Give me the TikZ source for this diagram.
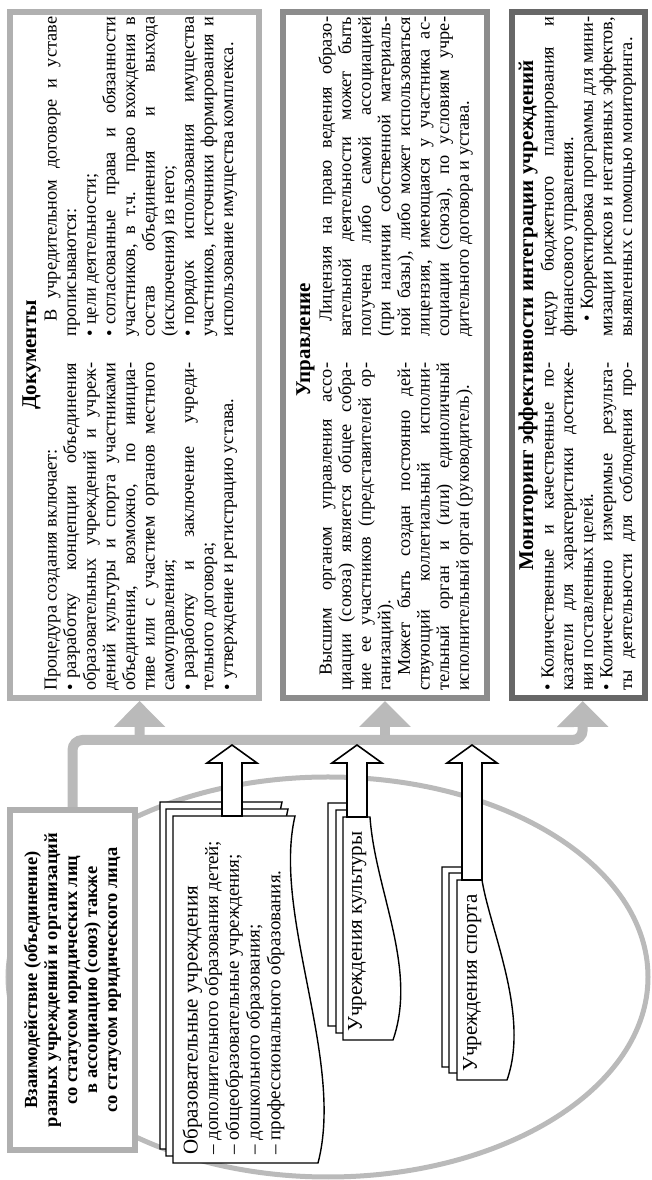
\documentclass[tikz,border=0pt]{standalone}
\usepackage{fontspec}
\setmainfont{Liberation Serif}
\usetikzlibrary{arrows.meta,calc}
\definecolor{lgray}{HTML}{B0B0B0}
\definecolor{mgray}{HTML}{8C8C8C}
\definecolor{dgray}{HTML}{676767}
\definecolor{tgray}{HTML}{BABABA}
\newcommand\bodyfont{\fontsize{18.3}{19.6}\selectfont\spaceskip=0.25em plus 0.8em minus 0.12em\relax}
\newcommand\stkfont{\fontsize{19}{20.7}\selectfont}
\newcommand\bul{\textbullet\hskip0.3em\relax}
\newcommand\JL[1]{\hbox to\hsize{\strut#1}}
\newcommand\LL[1]{\hbox to\hsize{\strut#1\hfil}}
\newcommand\IJL[1]{\hbox to\hsize{\strut\hskip15pt#1}}
\newcommand\colbox[2]{\vtop{\hsize=#1\relax#2}}
\tikzset{
 box/.style={draw, line width=6pt, fill=white, inner sep=0pt},
 ttl/.style={font=\fontsize{21}{24}\selectfont\bfseries, inner sep=0pt, anchor=base},
 col/.style={anchor=north west, inner sep=0pt, font=\bodyfont},
 trunk/.style={draw=tgray, line width=10pt},
 gtip/.style={-{Triangle[length=26pt,width=50pt]}},
 oval/.style={draw=tgray, line width=5pt},
 page/.style={draw=black, fill=white, line width=1.4pt},
 warrow/.style={draw=black, fill=white, line width=1.6pt},
 stk/.style={font=\stkfont, inner sep=0pt},
 stkttl/.style={font=\fontsize{21}{24}\selectfont, inner sep=0pt, anchor=base west},
 vzbox/.style={box, draw=lgray, align=center, font=\fontsize{18.5}{20}\selectfont\bfseries}
}
\begin{document}
\begin{tikzpicture}[x=1pt,y=1pt]
\begin{scope}[rotate=90,transform shape]
\useasboundingbox (0,0) rectangle (1180,-651);
\draw[oval] (203,-328) ellipse [x radius=200, y radius=320];
\node[box, draw=lgray, minimum width=686pt, minimum height=249pt] (docs) at (825,-134.5) {};
\node[box, draw=mgray, minimum width=686pt, minimum height=204pt] (upr) at (825,-385) {};
\node[box, draw=dgray, minimum width=686pt, minimum height=133pt] (mon) at (825,-578.5) {};
\node[vzbox, minimum width=340pt, minimum height=125pt] (vz) at (200,-72.5) {Взаимодействие (объединение)\\разных учреждений и организаций\\со статусом юридических лиц\\в ассоциацию (союз) также\\со статусом юридического лица};
\coordinate (t0) at (440,-72.5);
\coordinate (t1) at (440,-139.6);
\coordinate (t2) at (440,-385);
\coordinate (t3) at (440,-582.7);
\coordinate (eD) at ($(docs.north west)!0.52!(docs.south west)$);
\coordinate (eM) at ($(mon.north west)!0.53!(mon.south west)$);
\draw[trunk, gtip, rounded corners=10pt] (vz.east) -- (t0) -- (t3) -- (eM);
\draw[trunk, gtip] (t1) -- (eD);
\draw[trunk, gtip] (t2) -- (upr.west);
\foreach \dx/\dy in {14/13,7/7,0/0}
  \filldraw[page, shift={(\dx,\dy)}] (17,-173) -- (17,-318) .. controls (120,-345) and (265,-272) .. (364,-295) -- (364,-173) -- cycle;
\foreach \dx/\dy in {14/15,7/7,0/0}
  \filldraw[page, shift={(\dx,\dy)}] (140,-343) -- (140,-393) .. controls (212,-418) and (290,-375) .. (363,-370) -- (363,-343) -- cycle;
\foreach \dx/\dy in {13/15,7/8,0/0}
  \filldraw[page, shift={(\dx,\dy)}] (100,-457) -- (100,-507) .. controls (165,-530) and (250,-490) .. (300,-482) -- (300,-457) -- cycle;
\coordinate (a1) at (364,-232);
\coordinate (a2) at (363,-357);
\coordinate (a3) at (300,-472);
\filldraw[warrow] (a1) ++(0,10) -- ++(53,0) -- ++(0,15) -- ++(18,-25) -- ++(-18,-25) -- ++(0,15) -- ++(-53,0) -- cycle;
\filldraw[warrow] (a2) ++(0,10) -- ++(54,0) -- ++(0,15) -- ++(18,-25) -- ++(-18,-25) -- ++(0,15) -- ++(-54,0) -- cycle;
\filldraw[warrow] (a3) ++(0,10) -- ++(117,0) -- ++(0,15) -- ++(18,-25) -- ++(-18,-25) -- ++(0,15) -- ++(-117,0) -- cycle;
% texts
\node[ttl] (dT) at (825,-36) {Документы};
\node[col] (dL) at (489,-42.7) {\colbox{328pt}{%
\LL{Процедура создания включает:}%
\JL{\bul разработку концепции объединения}%
\JL{образовательных учреждений и учреж-}%
\JL{дений культуры и спорта участниками}%
\JL{объединения, возможно, по инициа-}%
\JL{тиве или с участием органов местного}%
\LL{самоуправления;}%
\JL{\bul разработку и заключение учреди-}%
\LL{тельного договора;}%
\LL{\bul утверждение и регистрацию устава.}}};
\node[col] (dR) at (843,-42.7) {\colbox{320pt}{%
\IJL{В учредительном договоре и уставе}%
\LL{прописываются:}%
\LL{\bul цели деятельности;}%
\JL{\bul согласованные права и обязанности}%
\JL{участников, в т.ч. право вхождения в}%
\JL{состав объединения и выхода}%
\LL{(исключения) из него;}%
\JL{\bul порядок использования имущества}%
\JL{участников, источники формирования и}%
\LL{использование имущества комплекса.}}};
\node[ttl] (uT) at (840,-310) {Управление};
\node[col] (uL) at (489,-317.7) {\colbox{328pt}{%
\IJL{Высшим органом управления ассо-}%
\JL{циации (союза) является общее собра-}%
\JL{ние ее участников (представителей ор-}%
\LL{ганизаций).}%
\IJL{Может быть создан постоянно дей-}%
\JL{ствующий коллегиальный исполни-}%
\JL{тельный орган и (или) единоличный}%
\LL{исполнительный орган (руководитель).}}};
\node[col] (uR) at (843,-317.7) {\colbox{320pt}{%
\IJL{Лицензия на право ведения образо-}%
\JL{вательной деятельности может быть}%
\JL{получена либо самой ассоциацией}%
\JL{(при наличии собственной материаль-}%
\JL{ной базы), либо может использоваться}%
\JL{лицензия, имеющаяся у участника ас-}%
\JL{социации (союза), по условиям учре-}%
\LL{дительного договора и устава.}}};
\node[ttl] (mT) at (865,-533) {Мониторинг эффективности интеграции учреждений};
\node[col] (mL) at (489,-539.7) {\colbox{328pt}{%
\JL{\bul Количественные и качественные по-}%
\JL{казатели для характеристики достиже-}%
\LL{ния поставленных целей.}%
\JL{\bul Количественно измеримые результа-}%
\JL{ты деятельности для соблюдения про-}}};
\node[col] (mR) at (843,-539.7) {\colbox{320pt}{%
\JL{цедур бюджетного планирования и}%
\LL{финансового управления.}%
\IJL{\bul Корректировка программы для мини-}%
\JL{мизации рисков и негативных эффектов,}%
\LL{выявленных с помощью мониторинга.}}};
\node[stk, anchor=north west] (s1t) at (25,-182.3) {\colbox{320pt}{%
\LL{\fontsize{21}{22}\selectfont Образовательные учреждения}%
\LL{– дополнительного образования детей;}%
\LL{– общеобразовательные учреждения;}%
\LL{– дошкольного образования;}%
\LL{– профессионального образования.}}};
\node[stkttl] (s2t) at (148,-361.8) {Учреждения культуры};
\node[stkttl] (s3t) at (108,-476.8) {Учреждения спорта};
\end{scope}
\end{tikzpicture}
\end{document}
